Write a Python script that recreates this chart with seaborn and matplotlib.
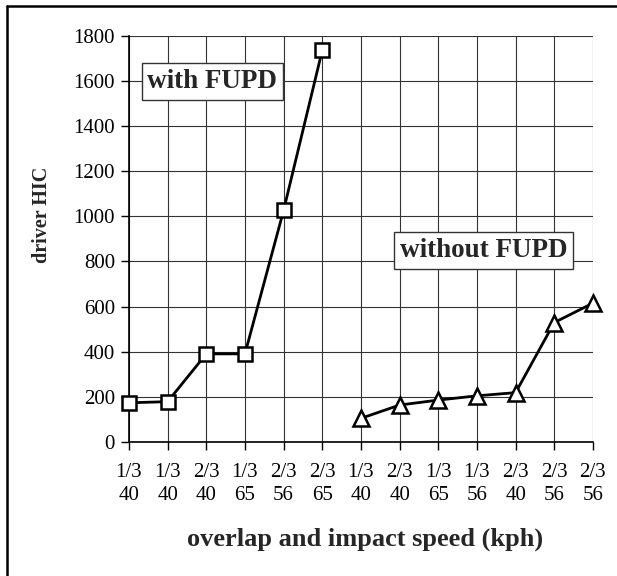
import matplotlib
matplotlib.use("Agg")
import matplotlib.pyplot as plt
import seaborn as sns
import numpy as np
import pandas as pd
from matplotlib.lines import Line2D

overlap = ["1/3", "1/3", "2/3", "1/3", "2/3", "2/3", "1/3", "2/3", "1/3", "1/3", "2/3", "2/3", "2/3"]
speed = ["40", "40", "40", "65", "56", "65", "40", "40", "65", "56", "40", "56", "56"]
with_fupd = [173, 178, 390, 390, 1027, 1737]
without_fupd = [104, 163, 185, 204, 218, 529, 615]
y_ticks = [0, 200, 400, 600, 800, 1000, 1200, 1400, 1600, 1800]

n = len(overlap)
pos = np.arange(n)
df_with = pd.DataFrame({"x": pos[:len(with_fupd)], "y": with_fupd})
df_without = pd.DataFrame({"x": pos[n - len(without_fupd):], "y": without_fupd})

sns.set_style("white")
plt.rcParams["font.family"] = ["Liberation Serif", "DejaVu Serif"]

fig = plt.figure(figsize=(6.17, 5.76), dpi=100)
ax = fig.add_axes([0.209, 0.233, 0.752, 0.7045])

sns.lineplot(data=df_with, x="x", y="y", ax=ax, color="black", lw=2,
             marker="s", markersize=10, markerfacecolor="white",
             markeredgecolor="black", markeredgewidth=1.8, clip_on=False, zorder=5)
sns.lineplot(data=df_without, x="x", y="y", ax=ax, color="black", lw=2,
             marker="^", markersize=12, markerfacecolor="white",
             markeredgecolor="black", markeredgewidth=1.8, clip_on=False, zorder=5)

ax.set_xlim(0, n - 1)
ax.set_ylim(0, 1800)
ax.set_yticks(y_ticks)
ax.set_xticks(pos)
ax.set_xticklabels([f"{o}\n{s}" for o, s in zip(overlap, speed)], linespacing=1.3)
ax.tick_params(axis="both", labelsize=15, colors="black", length=6, width=1,
               direction="out", left=True, bottom=True)
ax.tick_params(axis="x", pad=9)
ax.tick_params(axis="y", pad=4)
ax.grid(True, color="#333333", lw=0.8)
ax.set_axisbelow(True)
for s in ["top", "right"]:
    ax.spines[s].set_visible(False)
for s in ["left", "bottom"]:
    ax.spines[s].set_color("black")
    ax.spines[s].set_linewidth(1.2)

ax.set_xlabel("overlap and impact speed (kph)", fontsize=19, fontweight="bold")
ax.xaxis.set_label_coords(0.509, -0.212)
ax.set_ylabel("driver HIC", fontsize=14.5, fontweight="bold")
ax.yaxis.set_label_coords(-0.165, 0.56)

box = dict(boxstyle="square,pad=0.22", facecolor="white", edgecolor="#333333", lw=1)
ax.text(2.16, 1597, "with FUPD", fontsize=19.5, fontweight="bold", ha="center", va="center", bbox=box, zorder=6)
ax.text(9.17, 847, "without FUPD", fontsize=19.5, fontweight="bold", ha="center", va="center", bbox=box, zorder=6)

fig.add_artist(Line2D([7 / 617, 1.0], [1 - 6 / 576, 1 - 6 / 576], transform=fig.transFigure,
                      color="black", lw=1.8))
fig.add_artist(Line2D([7 / 617, 7 / 617], [0.0, 1 - 6 / 576], transform=fig.transFigure,
                      color="black", lw=1.8))

fig.savefig("out.png", dpi=100, facecolor="white")
